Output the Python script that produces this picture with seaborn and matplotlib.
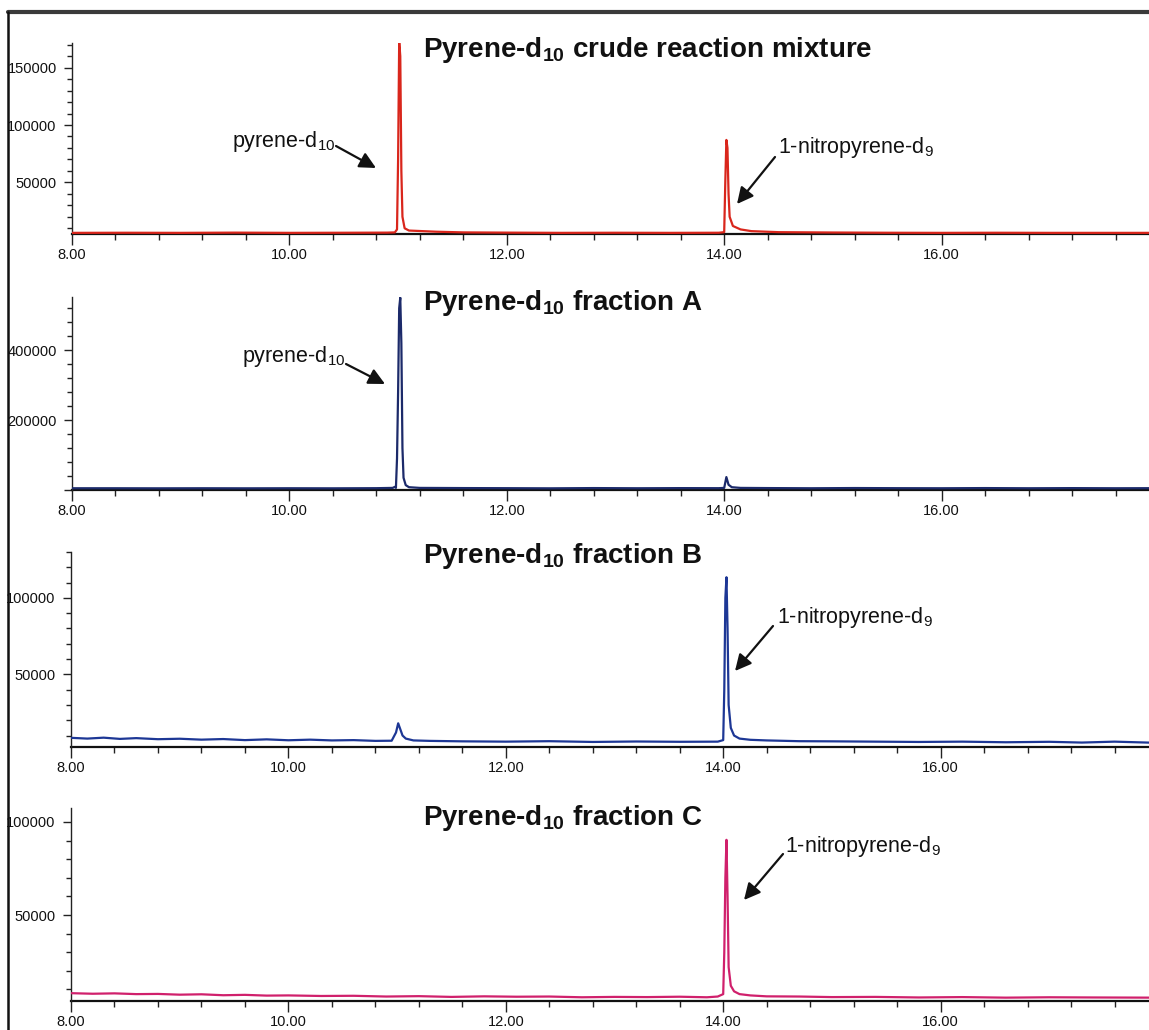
import numpy as np
import pandas as pd
import matplotlib
matplotlib.use("Agg")
import matplotlib.pyplot as plt
from matplotlib import font_manager
from matplotlib.lines import Line2D
from matplotlib.patches import FancyArrowPatch
from matplotlib.ticker import MultipleLocator, FuncFormatter
import seaborn as sns

# ---- retention time (min) / abundance for each chromatogram ----
time_crude = [8.00, 8.50, 9.00, 9.50, 10.00, 10.50, 10.90, 10.97, 10.99, 11.00, 11.01, 11.02,
              11.03, 11.04, 11.06, 11.10, 11.20, 11.35, 11.60, 12.00, 12.50, 13.00, 13.50,
              13.95, 14.00, 14.01, 14.02, 14.03, 14.04, 14.05, 14.08, 14.15, 14.25, 14.50,
              15.00, 15.50, 16.00, 16.50, 17.00, 17.50, 17.95]
signal_crude = [6000, 6100, 6000, 6200, 6000, 6100, 6200, 6400, 9000, 70000, 173000, 160000,
                60000, 20000, 10000, 8000, 7600, 7000, 6400, 6200, 6000, 6100, 6000,
                6100, 6600, 50000, 87000, 80000, 40000, 20000, 12000, 9000, 7500, 6600,
                6300, 6100, 6000, 6100, 6000, 6000, 6000]

time_a = [8.00, 8.40, 8.80, 9.20, 9.60, 10.00, 10.40, 10.80, 10.95, 10.97, 10.98, 10.99,
          11.00, 11.01, 11.02, 11.03, 11.04, 11.05, 11.07, 11.10, 11.20, 11.60, 12.00, 12.40,
          12.80, 13.20, 13.60, 13.95, 14.00, 14.02, 14.04, 14.07, 14.15, 14.40, 14.80, 15.20,
          15.60, 16.00, 16.40, 16.80, 17.20, 17.60, 17.95]
signal_a = [5000, 5000, 4800, 5000, 4800, 5000, 4800, 5200, 6000, 9000, 6000, 90000,
            280000, 520000, 550000, 420000, 120000, 35000, 14000, 8000, 6000, 5500, 5200, 4800,
            5500, 5000, 5400, 5200, 6000, 37000, 15000, 8000, 6000, 5500, 5000, 5600,
            5200, 5000, 5500, 5000, 5400, 5000, 5200]

time_b = [8.00, 8.15, 8.30, 8.45, 8.60, 8.80, 9.00, 9.20, 9.40, 9.60, 9.80, 10.00, 10.20,
          10.40, 10.60, 10.80, 10.95, 10.99, 11.01, 11.03, 11.05, 11.08, 11.15, 11.30, 11.60,
          12.00, 12.40, 12.80, 13.20, 13.60, 13.95, 14.00, 14.01, 14.02, 14.03, 14.04, 14.05,
          14.07, 14.10, 14.15, 14.25, 14.40, 14.70, 15.00, 15.40, 15.80, 16.20, 16.60, 17.00,
          17.30, 17.60, 17.95]
signal_b = [8500, 8000, 8600, 7800, 8300, 7600, 7900, 7300, 7700, 7000, 7500, 6900, 7300,
            6800, 7000, 6500, 6600, 12000, 18000, 14000, 10000, 8000, 6800, 6500, 6200,
            6000, 6300, 5800, 6100, 5900, 6000, 7000, 40000, 100000, 113500, 80000, 30000,
            15000, 10000, 8000, 7200, 6800, 6300, 6200, 6000, 5800, 6000, 5600, 5900,
            5400, 6000, 5300]

time_c = [8.00, 8.20, 8.40, 8.60, 8.80, 9.00, 9.20, 9.40, 9.60, 9.80, 10.00, 10.30, 10.60,
          10.90, 11.20, 11.50, 11.80, 12.10, 12.40, 12.70, 13.00, 13.30, 13.60, 13.85, 13.95,
          14.00, 14.01, 14.02, 14.03, 14.04, 14.05, 14.07, 14.10, 14.15, 14.25, 14.40, 14.70,
          15.00, 15.40, 15.80, 16.20, 16.60, 17.00, 17.40, 17.95]
signal_c = [8000, 7700, 7900, 7500, 7600, 7200, 7400, 6900, 7100, 6700, 6800, 6500, 6600,
            6200, 6400, 6000, 6300, 6100, 6200, 5800, 6000, 5900, 6100, 5800, 6200,
            7500, 30000, 70000, 90400, 60000, 22000, 12000, 9000, 7500, 6800, 6300, 6200,
            5900, 6000, 5700, 5900, 5600, 5800, 5700, 5600]

panel_titles = [r"Pyrene-d$_{\mathbf{10}}$ crude reaction mixture",
                r"Pyrene-d$_{\mathbf{10}}$ fraction A",
                r"Pyrene-d$_{\mathbf{10}}$ fraction B",
                r"Pyrene-d$_{\mathbf{10}}$ fraction C"]
y_ranges = [(5000, 171500), (0, 552000), (2500, 130000), (3800, 107500)]
y_major = [50000, 200000, 50000, 50000]
y_minor = [10000, 40000, 10000, 10000]
trace_colors = ["#d9261c", "#1c2a6a", "#1d3795", "#d0206c"]

# ---- styling ----
sns.set_theme(style="white")
names = {f.name for f in font_manager.fontManager.ttflist}
tick_family = "Liberation Sans Narrow" if "Liberation Sans Narrow" in names else "Liberation Sans"
plt.rcParams["font.family"] = ["Liberation Sans", "DejaVu Sans"]
plt.rcParams["mathtext.fontset"] = "custom"
plt.rcParams["mathtext.rm"] = "Liberation Sans"
plt.rcParams["mathtext.it"] = "Liberation Sans"
plt.rcParams["mathtext.bf"] = "Liberation Sans:bold"

W, H = 1149, 1030
fig = plt.figure(figsize=(W / 100, H / 100), dpi=100)
fig.patch.set_facecolor("white")


def fx(px):
    return px / W


def fy(py):
    return 1 - py / H


# axes boxes in pixels: left, top, bottom
boxes = [(72, 43, 234), (72, 297, 490), (71, 552, 747), (71, 808, 1001)]
px_per_min = 108.7

series = [(time_crude, signal_crude), (time_a, signal_a), (time_b, signal_b), (time_c, signal_c)]
axes = []
for i, ((left, top, bottom), (t, s)) in enumerate(zip(boxes, series)):
    ax = fig.add_axes([fx(left), fy(bottom), fx(W - left), (bottom - top) / H])
    df = pd.DataFrame({"time": t, "signal": s})
    sns.lineplot(data=df, x="time", y="signal", ax=ax, color=trace_colors[i],
                 linewidth=1.6, estimator=None, sort=False, legend=False, zorder=3)
    ax.set_xlim(8.0, 8.0 + (W - left) / px_per_min)
    ax.set_ylim(*y_ranges[i])
    ax.set_xlabel("")
    ax.set_ylabel("")
    ax.set_facecolor("none")
    for side in ("top", "right"):
        ax.spines[side].set_visible(False)
    ax.spines["left"].set_color("#222222")
    ax.spines["left"].set_linewidth(1.0)
    ax.spines["bottom"].set_color("#111111")
    ax.spines["bottom"].set_linewidth(1.6)
    ax.spines["bottom"].set_zorder(2)
    ax.xaxis.set_major_locator(MultipleLocator(2.0))
    ax.xaxis.set_minor_locator(MultipleLocator(0.4))
    ax.xaxis.set_major_formatter(FuncFormatter(lambda v, p: f"{v:.2f}"))
    ax.yaxis.set_major_locator(MultipleLocator(y_major[i]))
    ax.yaxis.set_minor_locator(MultipleLocator(y_minor[i]))
    ax.yaxis.set_major_formatter(
        FuncFormatter(lambda v, p, lo=y_ranges[i][0]: "" if v <= lo else f"{int(v)}"))
    ax.tick_params(axis="x", which="major", direction="out", length=8, width=1.0,
                   color="#222222", pad=2, labelsize=10.5, labelcolor="#111111")
    ax.tick_params(axis="x", which="minor", direction="out", length=4.5, width=1.0,
                   color="#222222")
    ax.tick_params(axis="y", which="major", direction="out", length=6, width=1.0,
                   color="#222222", pad=5, labelsize=10.5, labelcolor="#111111")
    ax.tick_params(axis="y", which="minor", direction="out", length=3.5, width=1.0,
                   color="#222222")
    ax.tick_params(bottom=True, left=True, which="both")
    for lab in ax.get_xticklabels() + ax.get_yticklabels():
        lab.set_family(tick_family)
    axes.append(ax)

# panel headings
title_base = [57, 310, 563, 825]
for title, yb in zip(panel_titles, title_base):
    fig.text(fx(423), fy(yb), title, fontsize=20, fontweight="bold", color="#111111",
             ha="left", va="baseline")

# peak labels with arrows: text (left, baseline), arrow start, arrow tip
labels = [
    (r"pyrene-d$_{10}$", (232, 147), (336, 146), (376, 168)),
    (r"1-nitropyrene-d$_{9}$", (778, 153), (775, 157), (737, 204)),
    (r"pyrene-d$_{10}$", (242, 362), (346, 364), (385, 384)),
    (r"1-nitropyrene-d$_{9}$", (777, 623), (773, 626), (735, 671)),
    (r"1-nitropyrene-d$_{9}$", (785, 852), (783, 854), (744, 900)),
]
for txt, (tx, ty), (sx, sy), (ex, ey) in labels:
    fig.text(fx(tx), fy(ty), txt, fontsize=15.5, color="#111111", ha="left", va="baseline")
    fig.add_artist(FancyArrowPatch(
        (fx(sx), fy(sy)), (fx(ex), fy(ey)), transform=fig.transFigure,
        arrowstyle="-|>,head_length=0.7,head_width=0.35", mutation_scale=14,
        color="#111111", linewidth=1.6, shrinkA=0, shrinkB=0))

# outer frame
fig.add_artist(Line2D([fx(8), fx(W)], [fy(12), fy(12)], transform=fig.transFigure,
                      color="#3a3a3a", linewidth=3.0))
fig.add_artist(Line2D([fx(8), fx(8)], [fy(12), fy(H)], transform=fig.transFigure,
                      color="#111111", linewidth=1.8))

fig.savefig("out.png", dpi=100, facecolor="white")
